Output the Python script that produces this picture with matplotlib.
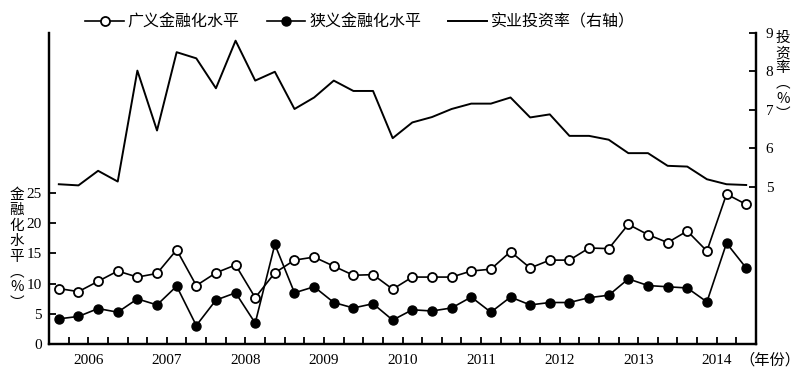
import matplotlib
matplotlib.use('Agg')
import matplotlib.pyplot as plt
import numpy as np
from matplotlib.lines import Line2D

plt.rcParams['font.family'] = ['Liberation Serif', 'Noto Sans CJK SC']

# quarterly data, 2006Q1 .. 2014Q4
broad = [9.2, 8.7, 10.4, 12.1, 11.1, 11.7, 15.6, 9.7, 11.8, 13.1,
         7.7, 11.8, 13.9, 14.4, 12.9, 11.4, 11.5, 9.1, 11.1, 11.1,
         11.1, 12.1, 12.4, 15.3, 12.6, 13.9, 13.9, 15.9, 15.8, 19.8,
         18.1, 16.8, 18.7, 15.4, 24.8, 23.1]
narrow = [4.2, 4.6, 5.9, 5.3, 7.5, 6.5, 9.6, 3.1, 7.3, 8.5,
          3.5, 16.5, 8.5, 9.5, 6.9, 6.0, 6.7, 4.0, 5.7, 5.5,
          6.0, 7.8, 5.3, 7.8, 6.5, 6.9, 6.9, 7.7, 8.1, 10.8,
          9.7, 9.5, 9.3, 7.0, 16.7, 12.6]
invest = [5.06, 5.03, 5.41, 5.13, 8.02, 6.46, 8.50, 8.34, 7.56, 8.80,
          7.76, 7.99, 7.02, 7.32, 7.76, 7.49, 7.49, 6.26, 6.67, 6.81,
          7.02, 7.16, 7.16, 7.32, 6.80, 6.88, 6.32, 6.32, 6.22, 5.87,
          5.87, 5.54, 5.52, 5.19, 5.06, 5.04]
years = ['2006', '2007', '2008', '2009', '2010', '2011', '2012', '2013', '2014']
left_ticks = [0, 5, 10, 15, 20, 25]
right_ticks = [5, 6, 7, 8, 9]

W, H = 809, 391
x = np.arange(len(broad)) + 0.5

fig = plt.figure(figsize=(W / 100, H / 100), dpi=100)
ax = fig.add_axes([49 / W, (H - 344.3) / H, (756 - 49) / W, (344.3 - 33) / H])
ax2 = ax.twinx()

l1, = ax.plot(x, broad, '-o', color='black', mfc='white', mec='black',
              ms=6.5, mew=1.3, lw=1.2, label='广义金融化水平')
l2, = ax.plot(x, narrow, '-o', color='black', mfc='black', mec='black',
              ms=6.5, lw=1.2, label='狭义金融化水平')
l3, = ax2.plot(x, invest, '-', color='black', lw=1.4, label='实业投资率（右轴）')

ax.set_xlim(0, len(broad))
ax.set_ylim(0, 51.4)
ax2.set_ylim(0.89, 9)
ax.set_yticks(left_ticks)
ax2.set_yticks(right_ticks)

xt = list(range(1, len(broad)))
xl = [''] * len(xt)
for i, y in enumerate(years):
    xl[1 + 4 * i] = y
ax.set_xticks(xt)
ax.set_xticklabels(xl)

for a in (ax, ax2):
    a.spines['top'].set_visible(False)
    for s in ('left', 'right', 'bottom'):
        a.spines[s].set_linewidth(1.6)
ax.tick_params(axis='both', direction='in', length=5, width=1.3, labelsize=11, pad=5)
ax.tick_params(axis='x', pad=7)
ax2.tick_params(axis='y', direction='in', length=5, width=1.3, labelsize=11, pad=7)

# vertical axis titles, one character per line
def vlabel(chars, xc, y0, step):
    for i, c in enumerate(chars):
        fig.text(xc / W, 1 - (y0 + i * step) / H, c, ha='center', va='center',
                 fontsize=10.5, family=['Noto Sans CJK SC', 'DejaVu Sans'])

vlabel(['金', '融', '化', '水', '平', '︵', '%', '︶'], 17, 195, 15.4)
vlabel(['投', '资', '率', '︵', '%', '︶'], 783, 38, 15.2)

fig.text(770 / W, 1 - 360 / H, '（年份）', ha='center', va='center',
         fontsize=11, family=['Noto Sans CJK SC', 'DejaVu Sans'])

fig.legend(handles=[l1, l2, l3], loc='center', bbox_to_anchor=(360 / W, 1 - 22 / H),
           ncol=3, frameon=False, handlelength=2.4, handletextpad=0.25,
           columnspacing=1.7, prop={'family': ['Noto Sans CJK SC', 'DejaVu Sans'], 'size': 11.5})

fig.savefig('out.png', dpi=100)
